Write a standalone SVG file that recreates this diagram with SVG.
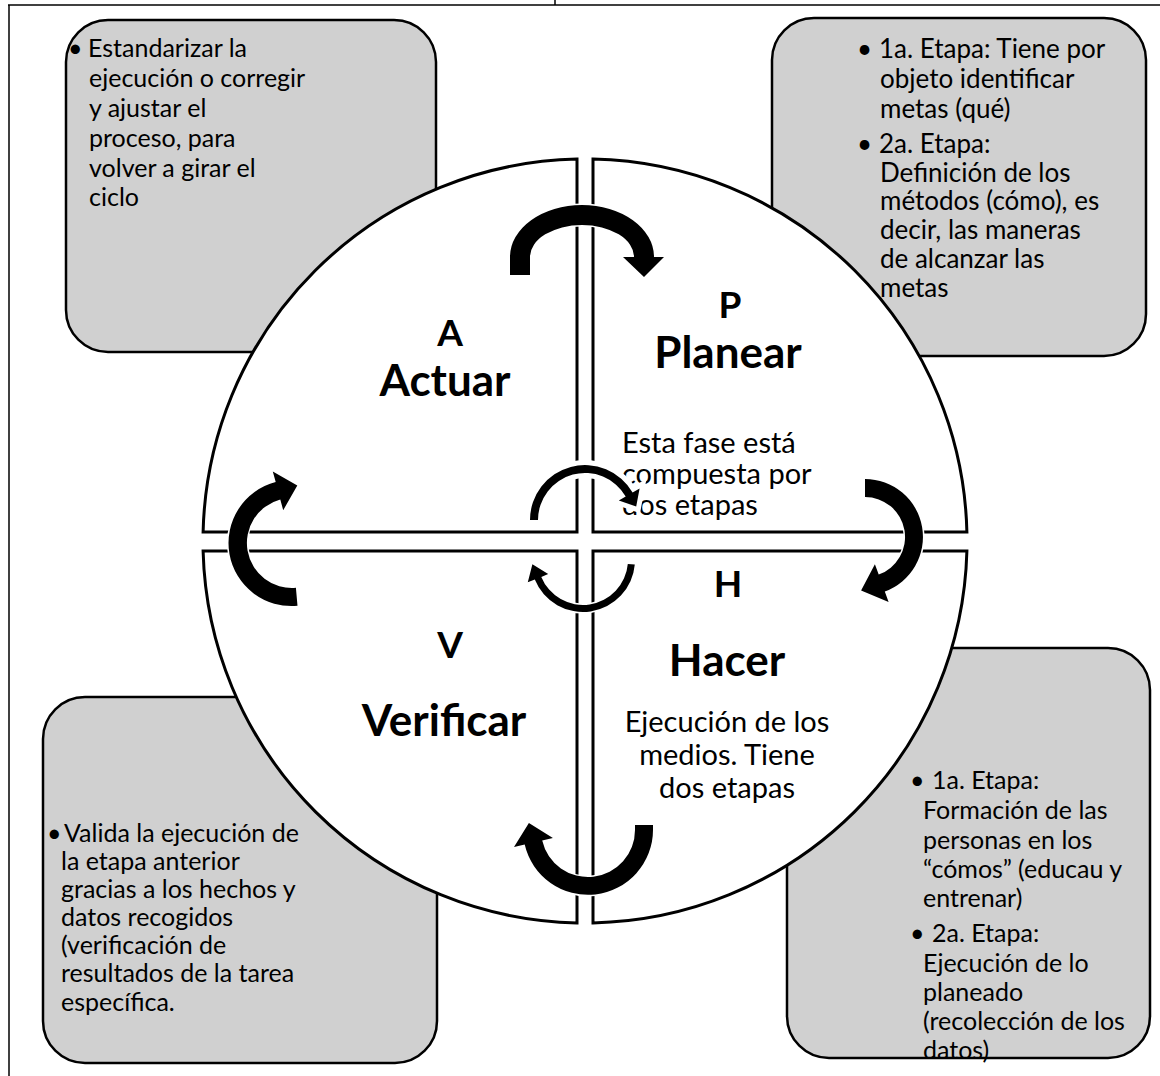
<svg xmlns="http://www.w3.org/2000/svg" width="1160" height="1076" viewBox="0 0 1160 1076">
<style>
.frame{stroke:#000;stroke-width:1.5;fill:none}
.box{fill:#d0d0d0;stroke:#000;stroke-width:2.5}
.quad{fill:#fff;stroke:#000;stroke-width:3}
.bt{font-family:Lato,"Liberation Sans",sans-serif;font-size:25px;fill:#000}
.bt2{font-family:Lato,"Liberation Sans",sans-serif;font-size:26px;fill:#000}
.lt{font-family:Lato,"Liberation Sans",sans-serif;font-weight:bold;fill:#000;text-anchor:middle}
.qt{font-family:Lato,"Liberation Sans",sans-serif;font-size:29px;fill:#000}
.arr{fill:#000;stroke:#fff;stroke-width:3;paint-order:stroke}
</style>
<rect width="1160" height="1076" fill="#fff"/>
<g id="frame">
<line class="frame" x1="8" y1="5" x2="1160" y2="5"/>
<line class="frame" x1="9" y1="5" x2="9" y2="1076"/>
<line class="frame" x1="555" y1="0" x2="555" y2="5"/>
</g>
<g id="box-actuar">
<rect class="box" x="66" y="20" width="370" height="332" rx="42"/>
<text class="bt"><tspan x="68" y="57">•</tspan><tspan x="88" y="57">Estandarizar la</tspan><tspan x="89" y="87">ejecución o corregir</tspan><tspan x="89" y="117">y ajustar el</tspan><tspan x="89" y="147">proceso, para</tspan><tspan x="89" y="177">volver a girar el</tspan><tspan x="89" y="206">ciclo</tspan></text>
</g>
<g id="box-planear">
<rect class="box" x="772" y="18" width="374" height="338" rx="42"/>
<text class="bt2"><tspan x="857" y="58">•</tspan><tspan x="879" y="58">1a. Etapa: Tiene por</tspan><tspan x="880" y="88">objeto identificar</tspan><tspan x="880" y="118">metas (qué)</tspan><tspan x="857" y="153">•</tspan><tspan x="879" y="153">2a. Etapa:</tspan><tspan x="880" y="182">Definición de los</tspan><tspan x="880" y="210">métodos (cómo), es</tspan><tspan x="880" y="239">decir, las maneras</tspan><tspan x="880" y="268">de alcanzar las</tspan><tspan x="880" y="297">metas</tspan></text>
</g>
<g id="box-verificar">
<rect class="box" x="43" y="697" width="394" height="366" rx="42"/>
<text class="bt"><tspan x="47" y="842">•</tspan><tspan x="64" y="842">Valida la ejecución de</tspan><tspan x="61" y="870">la etapa anterior</tspan><tspan x="61" y="898">gracias a los hechos y</tspan><tspan x="61" y="926">datos recogidos</tspan><tspan x="61" y="954">(verificación de</tspan><tspan x="61" y="982">resultados de la tarea</tspan><tspan x="61" y="1011">específica.</tspan></text>
</g>
<g id="box-hacer">
<rect class="box" x="787" y="648" width="363" height="410" rx="42"/>
<text class="bt"><tspan x="910" y="789">•</tspan><tspan x="932" y="789">1a. Etapa:</tspan><tspan x="923" y="819">Formación de las</tspan><tspan x="923" y="849">personas en los</tspan><tspan x="923" y="878">“cómos” (educau y</tspan><tspan x="923" y="907">entrenar)</tspan><tspan x="910" y="942">•</tspan><tspan x="932" y="942">2a. Etapa:</tspan><tspan x="923" y="972">Ejecución de lo</tspan><tspan x="923" y="1001">planeado</tspan><tspan x="923" y="1030">(recolección de los</tspan><tspan x="923" y="1059">datos)</tspan></text>
</g>
<g id="quad-actuar">
<path class="quad" d="M577,532 L577,159.1 A382,382 0 0 0 203.1,532 Z"/>
<text class="lt" x="450" y="346" font-size="37">A</text>
<text class="lt" x="445" y="396" font-size="44">Actuar</text>
</g>
<g id="quad-planear">
<path class="quad" d="M593,532 L593,159.1 A382,382 0 0 1 966.9,532 Z"/>
<text class="lt" x="730" y="318" font-size="37">P</text>
<text class="lt" x="728" y="368" font-size="44">Planear</text>
<text class="qt"><tspan x="622" y="453">Esta fase está</tspan><tspan x="622" y="484">compuesta por</tspan><tspan x="622" y="515">dos etapas</tspan></text>
</g>
<g id="quad-hacer">
<path class="quad" d="M593,551 L966.9,551 A382,382 0 0 1 593,922.9 Z"/>
<text class="lt" x="728" y="597" font-size="37">H</text>
<text class="lt" x="727" y="676" font-size="44">Hacer</text>
<text class="qt" text-anchor="middle"><tspan x="727" y="732">Ejecución de los</tspan><tspan x="727" y="765">medios. Tiene</tspan><tspan x="727" y="798">dos etapas</tspan></text>
</g>
<g id="quad-verificar">
<path class="quad" d="M577,551 L203.1,551 A382,382 0 0 0 577,922.9 Z"/>
<text class="lt" x="450" y="658" font-size="37">V</text>
<text class="lt" x="444" y="736" font-size="44">Verificar</text>
</g>
<g id="connectors">
<path class="arr" d="M510,275 L510,257 A72,52 0 0 1 654,257 L664,257 L644,277 L623,257 L634,257 A52,32 0 0 0 530,257 L530,275 Z"/>
<path class="arr" d="M865,479 A58,58 0 0 1 884.8,591.5 L888.6,601.9 L861.1,590.6 L874.9,564.3 L878.7,574.6 A40,40 0 0 0 865,497 Z"/>
<path class="arr" d="M653,825 L653,830 A65,65 0 0 1 524.7,844.6 L514,847.1 L528.9,823.1 L552.9,838.1 L542.2,840.6 A47,47 0 0 0 635,830 L635,825 Z"/>
<path class="arr" d="M297.5,605.8 A63,63 0 0 1 275.7,482.1 L272.8,471.5 L297.3,485.6 L283.2,510.2 L280.3,499.5 A45,45 0 0 0 295.9,587.8 Z"/>
<path class="arr" style="stroke-width:10" d="M530,520 A55,55 0 0 1 632.6,492.5 L639.6,488.5 L636.2,506.6 L618.8,500.5 L625.7,496.5 A47,47 0 0 0 538,520 Z"/>
<path class="arr" d="M634.8,564.5 A52,52 0 0 1 534.8,579.5 L527.8,582.3 L532.4,564.3 L548.2,574.1 L541.3,576.9 A45,45 0 0 0 627.8,563.9 Z"/>
</g>
</svg>
